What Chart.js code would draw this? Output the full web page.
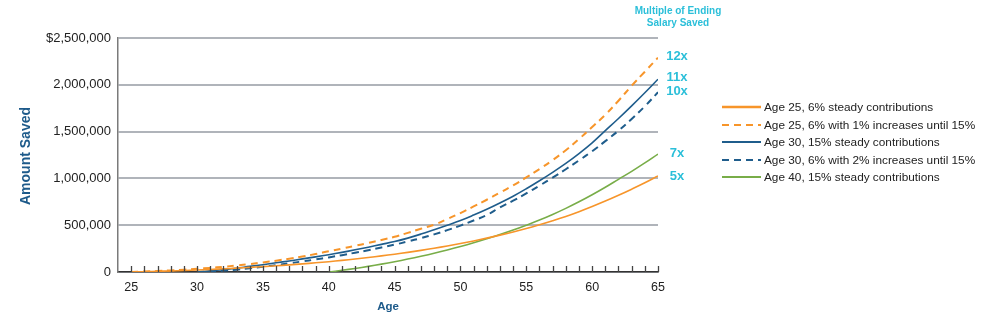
<!DOCTYPE html>
<html>
<head>
<meta charset="utf-8">
<script src="https://cdn.jsdelivr.net/npm/chart.js@4"></script>
<style>
  html, body { margin: 0; padding: 0; background: #fff; }
  #wrap { position: relative; width: 1000px; height: 327px; }
</style>
</head>
<body>
<div id="wrap"><canvas id="savingsChart" width="1000" height="327"></canvas></div>
<script>
// ages on the x axis
var ages = [25,26,27,28,29,30,31,32,33,34,35,36,37,38,39,40,41,42,43,44,45,
            46,47,48,49,50,51,52,53,54,55,56,57,58,59,60,61,62,63,64,65];

// amount saved, dollars (null = not started yet)
var age25Steady = [0,3000,7000,11000,16000,21000,27000,34000,41000,49000,57000,66000,76000,87000,98000,110000,
                   124000,139000,155000,172000,190000,210000,231000,254000,278000,304000,332000,362000,394000,428000,
                   465000,505000,548000,594000,645000,700000,758000,820000,885000,953000,1026000];
var age25Increase = [0,5000,10000,17000,25000,34000,44000,56000,70000,85000,102000,121000,142000,165000,192000,222000,
                     250000,280000,310000,342000,376000,418000,462000,505000,565000,630000,700000,772000,848000,925000,
                     1010000,1100000,1195000,1300000,1420000,1550000,1680000,1830000,1990000,2140000,2290000];
var age30Steady = [null,null,null,null,null,0,12000,25000,40000,60000,78000,98000,118000,140000,162000,185000,
                   210000,237000,265000,295000,325000,362000,405000,452000,500000,550000,608000,670000,738000,810000,
                   890000,975000,1065000,1160000,1265000,1380000,1510000,1640000,1775000,1915000,2060000];
var age30Increase = [null,null,null,null,null,0,6000,14000,25000,40000,56000,74000,93000,113000,134000,156000,
                     180000,206000,233000,262000,292000,326000,362000,402000,447000,496000,550000,608000,690000,762000,
                     840000,922000,1008000,1098000,1192000,1290000,1398000,1510000,1635000,1770000,1920000];
var age40Steady = [null,null,null,null,null,null,null,null,null,null,null,null,null,null,null,0,
                   18000,38000,60000,84000,110000,138000,168000,200000,235000,272000,312000,355000,400000,448000,
                   500000,555000,615000,680000,750000,825000,905000,990000,1075000,1165000,1260000];

var seriesNames = ['Age 25, 6% steady contributions',
                   'Age 25, 6% with 1% increases until 15%',
                   'Age 30, 15% steady contributions',
                   'Age 30, 6% with 2% increases until 15%',
                   'Age 40, 15% steady contributions'];
var multiples = ['5x', '12x', '11x', '10x', '7x'];
var yTicks = [0, 500000, 1000000, 1500000, 2000000, 2500000];

var orange = '#f7952a';
var blue = '#1f5d8c';
var green = '#78ad48';
var cyan = '#2bbfd9';

function toPoints(vals) {
    return ages.map(function (a, i) { return { x: a, y: vals[i] }; });
}

function makeSet(i, vals, color, dashed) {
    return {
        label: seriesNames[i],
        data: toPoints(vals),
        borderColor: color,
        backgroundColor: color,
        borderWidth: dashed ? 2 : 1.6,
        borderDash: dashed ? [7, 5] : [],
        pointRadius: 0,
        tension: 0.4,
        fill: false
    };
}

var datasets = [
    makeSet(0, age25Steady, orange, false),
    makeSet(1, age25Increase, orange, true),
    makeSet(2, age30Steady, blue, false),
    makeSet(3, age30Increase, blue, true),
    makeSet(4, age40Steady, green, false)
];

// tick marks above the x axis, end labels, legend and titles
var extras = {
    id: 'extras',
    afterDraw: function (chart) {
        var ctx = chart.ctx;
        var xs = chart.scales.x, ys = chart.scales.y;
        var area = chart.chartArea;
        ctx.save();

        // small ticks pointing up from the x axis
        ctx.strokeStyle = '#444';
        ctx.lineWidth = 1.3;
        ages.forEach(function (a) {
            var px = Math.round(xs.getPixelForValue(a)) + 0.5;
            ctx.beginPath();
            ctx.moveTo(px, area.bottom);
            ctx.lineTo(px, area.bottom - 6);
            ctx.stroke();
        });

        // axis titles
        ctx.fillStyle = '#1d5a8a';
        ctx.textAlign = 'center';
        ctx.textBaseline = 'middle';
        ctx.font = 'bold 11.5px "Liberation Sans", Arial, sans-serif';
        ctx.fillText('Age', (area.left + area.right) / 2, 307);
        ctx.save();
        ctx.translate(26, (area.top + area.bottom) / 2 + 1);
        ctx.rotate(-Math.PI / 2);
        ctx.font = 'bold 14px "Liberation Sans", Arial, sans-serif';
        ctx.fillText('Amount Saved', 0, 0);
        ctx.restore();

        // multiple of ending salary
        ctx.fillStyle = cyan;
        ctx.font = 'bold 10px "Liberation Sans", Arial, sans-serif';
        ctx.fillText('Multiple of Ending', 678, 11);
        ctx.fillText('Salary Saved', 678, 23);
        ctx.font = 'bold 13px "Liberation Sans", Arial, sans-serif';
        var last = ages.length - 1;
        var nudge = [0, -1, -2, -1, -1];
        chart.data.datasets.forEach(function (ds, i) {
            var py = ys.getPixelForValue(ds.data[last].y) + nudge[i];
            ctx.fillText(multiples[i], 677, py);
        });

        // legend
        ctx.textAlign = 'left';
        ctx.font = '11.8px "Liberation Sans", Arial, sans-serif';
        var rows = [107, 125, 142, 160, 177];
        chart.data.datasets.forEach(function (ds, i) {
            var ry = rows[i];
            ctx.strokeStyle = ds.borderColor;
            ctx.lineWidth = i === 0 ? 2.5 : 2;
            ctx.setLineDash(ds.borderDash.length ? [7, 5] : []);
            ctx.beginPath();
            ctx.moveTo(722, ry);
            ctx.lineTo(761, ry);
            ctx.stroke();
            ctx.setLineDash([]);
            ctx.fillStyle = '#222';
            ctx.fillText(ds.label, 764, ry + 0.5);
        });
        ctx.restore();
    }
};

new Chart(document.getElementById('savingsChart'), {
    type: 'line',
    data: { datasets: datasets },
    options: {
        responsive: false,
        animation: false,
        layout: { padding: { left: 0, top: 38, right: 342, bottom: 0 } },
        plugins: {
            legend: { display: false },
            tooltip: { enabled: false }
        },
        scales: {
            x: {
                type: 'linear',
                min: 24,
                max: 65,
                afterFit: function (s) { s.height = 55; },
                grid: { display: false, drawTicks: false },
                border: { color: '#333', width: 1.5 },
                ticks: {
                    stepSize: 1,
                    autoSkip: false,
                    maxRotation: 0,
                    padding: 8,
                    color: '#222',
                    font: { family: '"Liberation Sans", Arial, sans-serif', size: 12.5 },
                    callback: function (v) { return v % 5 === 0 && v >= 25 ? v : ''; }
                }
            },
            y: {
                min: 0,
                max: 2500000,
                afterFit: function (s) { s.width = 118; },
                afterBuildTicks: function (s) {
                    s.ticks = yTicks.map(function (v) { return { value: v }; });
                },
                grid: { color: '#b0b4ba', lineWidth: 2, drawTicks: false },
                border: { color: '#7a7a7a', width: 1.5 },
                ticks: {
                    padding: 7,
                    color: '#222',
                    font: { family: '"Liberation Sans", Arial, sans-serif', size: 13 },
                    callback: function (v) {
                        var s = v.toLocaleString('en-US');
                        return v === 2500000 ? '$' + s : s;
                    }
                }
            }
        }
    },
    plugins: [extras]
});
</script>
</body>
</html>
